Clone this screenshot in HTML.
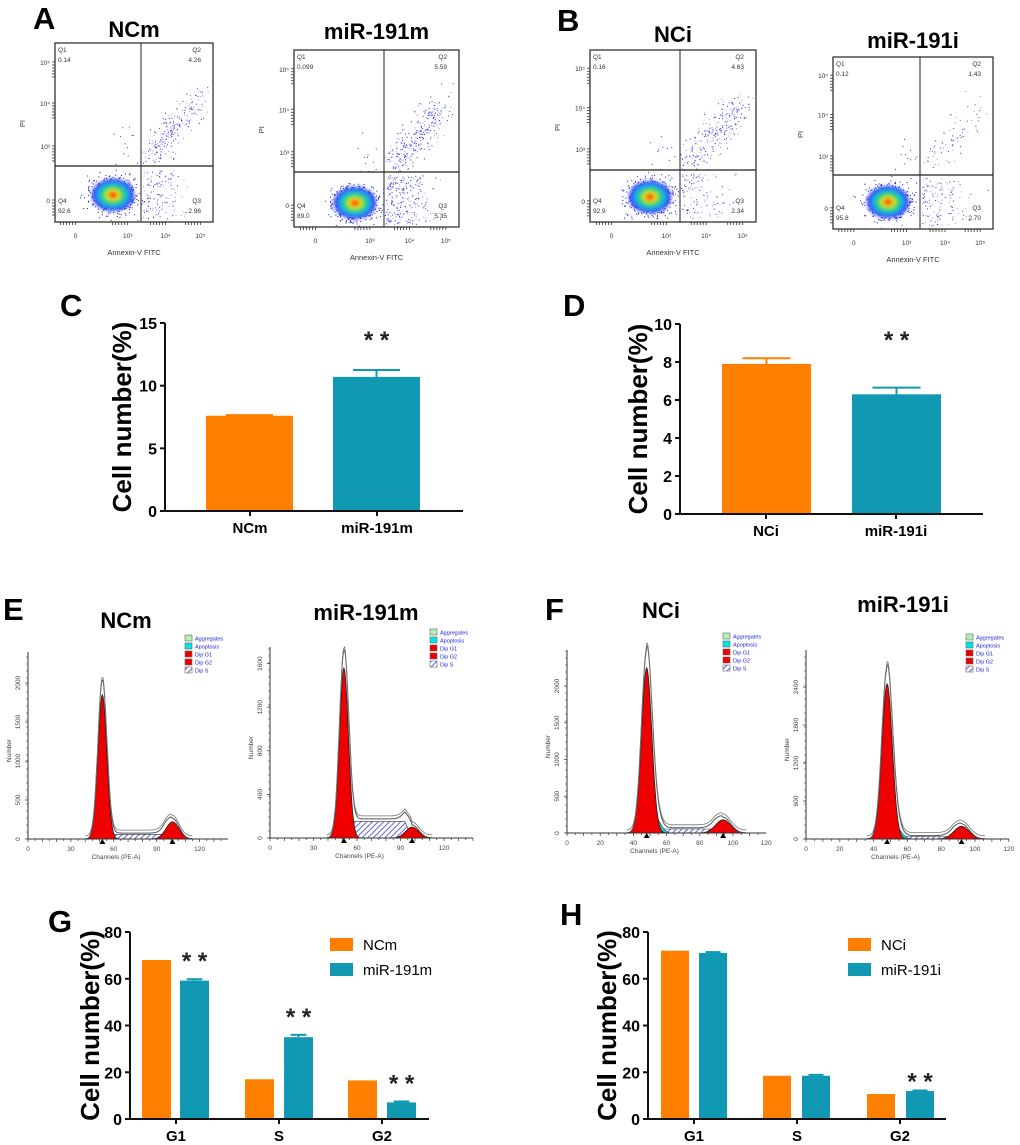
<!DOCTYPE html>
<html><head><meta charset="utf-8"><style>
html,body{margin:0;padding:0;background:#fff;}
svg{display:block;font-family:"Liberation Sans",Arial,sans-serif;}
</style></head><body>
<svg id="fig" width="1020" height="1145" viewBox="0 0 1020 1145" xmlns="http://www.w3.org/2000/svg">
<defs>
<pattern id="hatch" patternUnits="userSpaceOnUse" width="4" height="4" patternTransform="rotate(45)">
<rect width="4" height="4" fill="#fff"/><line x1="0" y1="0" x2="0" y2="4" stroke="#3b3bd6" stroke-width="1.6"/></pattern>
<filter id="blur1"><feGaussianBlur stdDeviation="1.8"/></filter>
</defs>
</svg>
<script>
// ---- Bar chart data ----
const cCats=['NCm','miR-191m'];
const cVals=[7.6,10.7];
const cErr=[0.05,0.55];
const cTicks=[0,5,10,15];
const dCats=['NCi','miR-191i'];
const dVals=[7.9,6.3];
const dErr=[0.3,0.35];
const dTicks=[0,2,4,6,8,10];
const gCats=['G1','S','G2'];
const gCtrl=[68,17,16.5];
const gTreat=[59.2,35,7.1];
const gTreatErr=[0.6,1.0,0.4];
const gTicks=[0,20,40,60,80];
const hCats=['G1','S','G2'];
const hCtrl=[72,18.5,10.7];
const hTreat=[71,18.5,12];
const hTreatErr=[0.4,0.4,0.2];
const hTicks=[0,20,40,60,80];
// ---- Flow cytometry quadrant values ----
const flowTitles=['NCm','miR-191m','NCi','miR-191i'];
const q1Vals=['0.14','0.099','0.16','0.12'];
const q2Vals=[4.26,5.59,4.63,1.43];
const q3Vals=[2.96,5.35,2.34,2.70];
const q4Vals=['92.6','89.0','92.9','95.8'];
// ---- Cell cycle histogram data ----
const histTitles=['NCm','miR-191m','NCi','miR-191i'];
const g1Center=[52,51,48,48];
const g1Height=[1850,1560,2250,2450];
const g2Center=[101,98,94,92];
const g2Height=[220,100,180,200];
const sLevel=[60,150,55,40];
const apoHeight=[0,0,220,200];
const histYTicks=[[0,500,1000,1500,2000],[0,400,800,1200,1600],[0,500,1000,1500,2000],[0,600,1200,1800,2400]];
const histXTicks=[[0,30,60,90,120],[0,30,60,90,120],[0,20,40,60,80,100,120],[0,20,40,60,80,100,120]];

const NS='http://www.w3.org/2000/svg';
const svg=document.getElementById('fig');
function el(tag,attrs,parent){const e=document.createElementNS(NS,tag);for(const k in attrs)e.setAttribute(k,attrs[k]);(parent||svg).appendChild(e);return e;}
function txt(s,attrs,parent){const e=el('text',attrs,parent);e.textContent=s;return e;}
const ORANGE='#ff8000',TEAL='#1199b4';

const letters=[['A',33,29],['B',557,31],['C',60,316],['D',563,316],['E',3,620],['F',545,620],['G',48,932],['H',560,925]];
letters.forEach(l=>{const t=txt(l[0],{x:l[1],y:l[2],'font-size':31,'font-weight':'bold',fill:'#000'});

});

// ---------- Flow plots ----------
const flowBoxes=[[55,43,213,222,141,166,113,195,37],[294,50,459,227,384,172,355,203,39],[590,50,756,222,680,170,650,197,42],[833,57,993,229,920,175,888,202,48]];
let seed=12345;function rnd(){seed=(seed*1664525+1013904223)%4294967296;return seed/4294967296;}
function gauss(){return (rnd()+rnd()+rnd()+rnd()-2)/0.58;}
flowBoxes.forEach((b,i)=>{
 const [x0,y0,x1,y1,cx,cy,bx,by,tb]=b;const w=x1-x0,h=y1-y0;
 const g=el('g',{});
 
 
 const t=txt(flowTitles[i],{x:(x0+x1)/2,y:tb,'text-anchor':'middle','font-size':22,'font-weight':'bold'},g);
 
 
 const n2=Math.round(q2Vals[i]*55);
 for(let k=0;k<n2;k++){const tt=rnd();const x=cx+(x1-cx)*(0.08+0.72*tt)+gauss()*7;const y=cy-(cy-y0)*(0.05+0.5*tt)+gauss()*9;
  if(x>cx&&x<x1-2&&y<cy&&y>y0+2)el('rect',{x:x,y:y,width:1,height:1,fill:rnd()<0.5?'#2a2ae6':'#8a8af0'},g);}
 const n3=Math.round(q3Vals[i]*45);
 for(let k=0;k<n3;k++){const x=cx+2+Math.abs(gauss())*(x1-cx)*0.3;const y=cy+3+rnd()*(y1-cy-6);
  if(x<x1-2)el('rect',{x:x,y:y,width:1,height:1,fill:rnd()<0.5?'#2a2ae6':'#9090f0'},g);}
 for(let k=0;k<12;k++){const x=bx+rnd()*(cx-bx);const y=cy-rnd()*(cy-y0)*0.35;el('rect',{x:x,y:y,width:1,height:1,fill:'#3030e0'},g);}
 for(let k=0;k<650;k++){const x=bx+gauss()*11;const y=by+gauss()*9;if(x>x0&&x<x1&&y<y1)el('rect',{x:x,y:y,width:1,height:1,fill:'#1010e0'},g);}
 const bl=el('g',{filter:'url(#blur1)'},g);
 [[21,16,'#2d3cf0'],[17,13,'#1aa8f0'],[13,10,'#22d070'],[8.5,6.5,'#b8e820'],[5.5,4.2,'#ffa010'],[3,2.4,'#ff2000']].forEach(c=>el('ellipse',{cx:bx,cy:by,rx:c[0],ry:c[1],fill:c[2]},bl));
 el('rect',{x:x0,y:y0,width:w,height:h,fill:'none',stroke:'#222','stroke-width':1.2},g);
 el('line',{x1:cx,y1:y0,x2:cx,y2:y1,stroke:'#222','stroke-width':1},g);
 el('line',{x1:x0,y1:cy,x2:x1,y2:cy,stroke:'#222','stroke-width':1.2},g);
 const fs=6.5,fc='#333';
 txt('Q1',{x:x0+3,y:y0+9,'font-size':fs,fill:fc},g);txt(q1Vals[i],{x:x0+3,y:y0+19,'font-size':fs,fill:fc},g);
 txt('Q2',{x:x1-12,y:y0+9,'font-size':fs,fill:fc,'text-anchor':'end'},g);txt(q2Vals[i].toFixed(2),{x:x1-12,y:y0+19,'font-size':fs,fill:fc,'text-anchor':'end'},g);
 txt('Q4',{x:x0+3,y:y1-19,'font-size':fs,fill:fc},g);txt(q4Vals[i],{x:x0+3,y:y1-9,'font-size':fs,fill:fc},g);
 txt('Q3',{x:x1-12,y:y1-19,'font-size':fs,fill:fc,'text-anchor':'end'},g);txt(q3Vals[i].toFixed(2),{x:x1-12,y:y1-9,'font-size':fs,fill:fc,'text-anchor':'end'},g);
 const yf=[0.106,0.335,0.575,0.877],yl=['10⁵','10⁴','10³','0'];
 yf.forEach((f,k)=>{const yy=y0+f*h;txt(yl[k],{x:x0-5,y:yy+3,'font-size':6.5,'text-anchor':'end',fill:'#333'},g);
  for(let m=0;m<6;m++)el('line',{x1:x0-3,y1:yy+m*3,x2:x0,y2:yy+m*3,stroke:'#333','stroke-width':0.8},g);});
 const xf=[0.13,0.46,0.70,0.92],xl=['0','10³','10⁴','10⁵'];
 xf.forEach((f,k)=>{const xx=x0+f*w;txt(xl[k],{x:xx,y:y1+16,'font-size':6.5,'text-anchor':'middle',fill:'#333'},g);
  for(let m=0;m<6;m++)el('line',{x1:xx-m*3,y1:y1,x2:xx-m*3,y2:y1+3,stroke:'#333','stroke-width':0.8},g);});
 txt('Annexin-V FITC',{x:(x0+x1)/2,y:y1+33,'font-size':7.5,'text-anchor':'middle',fill:'#333'},g);
 txt('PI',{x:0,y:0,'font-size':7.5,fill:'#333','text-anchor':'middle',transform:`translate(${x0-30},${y0+h*0.45}) rotate(-90)`},g);
});

// ---------- Histograms ----------
const histAxes=[[28,839,652,1.43,0.078,228,628,126,185,635],[270,838,647,1.45,0.109,473,620,366,430,629],[567,833,650,1.66,0.0735,766,618,661,723,633],[806,839,650,1.69,0.0633,1009,612,903,966,634]];
function gpdf(x,c,s){const z=(x-c)/s;return Math.exp(-0.5*z*z);}
histAxes.forEach((a,i)=>{
 const [ax,base,top,pxc,pxu,xend,tb,tcx,lx,ly]=a;
 const g=el('g',{});
 
 
 const t=txt(histTitles[i],{x:tcx,y:tb,'text-anchor':'middle','font-size':22,'font-weight':'bold'},g);
 
 
 const X=c=>ax+c*pxc,Y=v=>base-v*pxu;
 const c1=g1Center[i],c2=g2Center[i],s1=3.1,s2=4.5;
 const sfun=c=>{if(c<c1||c>c2)return 0;const v=sLevel[i];const e1=Math.min(1,(c-c1)/4),e2=Math.min(1,(c2-c)/5);return v*Math.max(0,Math.min(e1,e2));};
 const apo=c=>{if(c<c1||c>=c1+14)return 0;const z=(c-(c1+5))/4.5;return apoHeight[i]*Math.exp(-z*z);};
 const g1=c=>g1Height[i]*gpdf(c,c1,s1),g2=c=>g2Height[i]*gpdf(c,c2,s2);
 const pts=[];for(let c=c1-12;c<=c2+14;c+=0.5)pts.push(c);
 const area=f=>'M'+X(pts[0])+','+base+' '+pts.map(c=>'L'+X(c).toFixed(1)+','+Y(f(c)).toFixed(1)).join(' ')+' L'+X(pts[pts.length-1])+','+base+'Z';
 el('path',{d:area(sfun),fill:'url(#hatch)',stroke:'#333','stroke-width':0.6},g);
 if(apoHeight[i]>0)el('path',{d:area(apo),fill:'#00e6e6',stroke:'#333','stroke-width':0.6},g);
 el('path',{d:area(g1),fill:'#ee0000',stroke:'#222','stroke-width':0.8},g);
 el('path',{d:area(g2),fill:'#ee0000',stroke:'#222','stroke-width':0.8},g);
 const tot=c=>g1(c)*1.1+g2(c)*1.2+sfun(c)*1.1+apo(c)+(c>c1&&c<c2?10:0);
 const line=(f,dy)=>'M'+pts.map(c=>X(c).toFixed(1)+','+(Y(f(c))+dy).toFixed(1)).join(' L');
 el('path',{d:line(tot,0),fill:'none',stroke:'#555','stroke-width':1},g);
 el('path',{d:line(tot,-3),fill:'none',stroke:'#777','stroke-width':0.8},g);
 el('line',{x1:ax,y1:top,x2:ax,y2:base,stroke:'#333','stroke-width':1},g);
 el('line',{x1:ax,y1:base,x2:xend,y2:base,stroke:'#333','stroke-width':1},g);
 for(let c=0;X(c)<=xend;c+=5)el('line',{x1:X(c),y1:base,x2:X(c),y2:base+(c%10==0?3:2),stroke:'#333','stroke-width':0.7},g);
 histXTicks[i].forEach(v=>txt(String(v),{x:X(v),y:base+12,'font-size':6.5,'text-anchor':'middle',fill:'#444'},g));
 histYTicks[i].forEach(v=>{el('line',{x1:ax-3,y1:Y(v),x2:ax,y2:Y(v),stroke:'#333','stroke-width':0.7},g);
  txt(String(v),{x:0,y:0,'font-size':6.5,'text-anchor':'middle',fill:'#444',transform:`translate(${ax-8},${Y(v)}) rotate(-90)`},g);});
 for(let y=base;y>top;y-=7)el('line',{x1:ax-2,y1:y,x2:ax,y2:y,stroke:'#333','stroke-width':0.5},g);
 txt('Channels (PE-A)',{x:(ax+xend)/2-12,y:base+20,'font-size':6.5,'text-anchor':'middle',fill:'#444'},g);
 txt('Number',{x:0,y:0,'font-size':6.5,'text-anchor':'middle',fill:'#444',transform:`translate(${ax-17},${(top+base)/2+5}) rotate(-90)`},g);
 [c1,c2].forEach(c=>el('path',{d:`M${X(c)-3},${base+5} L${X(c)+3},${base+5} L${X(c)},${base} Z`,fill:'#000'},g));
 const leg=[['Aggregates','#b4f0b4'],['Apoptosis','#00e6e6'],['Dip G1','#ee0000'],['Dip G2','#ee0000'],['Dip S','url(#hatch)']];
 leg.forEach((l,k)=>{el('rect',{x:lx,y:ly+k*8,width:7,height:6,fill:l[1],stroke:'#666','stroke-width':0.6},g);
  txt(l[0],{x:lx+10,y:ly+k*8+5.5,'font-size':5.5,fill:'#2020e0'},g);});
});

// ---------- Bar charts ----------
function barChart(o){
 const g=el('g',{});
 
 
 const tmax=o.ticks[o.ticks.length-1];
 const Y=v=>o.base-(o.base-o.top)*v/tmax;
 const yt=txt('Cell number(%)',{x:0,y:0,'font-size':26,'font-weight':'bold','text-anchor':'middle',transform:`translate(${o.titleX},${(o.top+o.base)/2}) rotate(-90)`},g);
 
 
 o.ticks.forEach(v=>{el('line',{x1:o.ax-5,y1:Y(v),x2:o.ax,y2:Y(v),stroke:'#111','stroke-width':2},g);
  txt(String(v),{x:o.ax-8,y:Y(v)+6,'font-size':16,'font-weight':'bold','text-anchor':'end'},g);});
 o.series.forEach((s,si)=>{
  s.vals.forEach((v,k)=>{const x=o.barX[k][si];const w=o.barW;const col=Array.isArray(s.color)?s.color[k]:s.color;
   const e=s.err?s.err[k]:0;
   if(e>0){el('line',{x1:x+w/2,y1:Y(v),x2:x+w/2,y2:Y(v+e),stroke:col,'stroke-width':2},g);
    el('line',{x1:x+w/2-w*0.27,y1:Y(v+e),x2:x+w/2+w*0.27,y2:Y(v+e),stroke:col,'stroke-width':2},g);}
   const r=el('rect',{x:x,y:Y(v),width:w,height:o.base-Y(v),fill:col},g);
   
   
   if(s.stars&&s.stars[k]){const sb=o.starFixed!==undefined?o.starFixed:Y(v+e)-o.starGap;
    const st=txt('* *',{x:x+w/2,y:sb,'font-size':24,'font-weight':'bold','text-anchor':'middle',fill:'#222'},g);
    
    }
  });});
 el('line',{x1:o.ax,y1:o.top,x2:o.ax,y2:o.base,stroke:'#111','stroke-width':2},g);
 el('line',{x1:o.ax,y1:o.base,x2:o.xend,y2:o.base,stroke:'#111','stroke-width':2},g);
 o.cats.forEach((c,k)=>{const cx=o.catX[k];el('line',{x1:cx,y1:o.base,x2:cx,y2:o.base+5,stroke:'#111','stroke-width':2},g);
  txt(c,{x:cx,y:o.base+22,'font-size':15,'font-weight':'bold','text-anchor':'middle'},g);});
 if(o.legend){o.series.forEach((s,si)=>{const ly=o.legend[1]+si*25;
  const lr=el('rect',{x:o.legend[0],y:ly,width:23,height:13,fill:s.color},g);
  
  
  txt(s.label,{x:o.legend[0]+33,y:ly+12,'font-size':15},g);});}
}
barChart({name:'chart-c-apoptosis-mimic',ax:165,top:323,base:511,xend:463,ticks:cTicks,cats:cCats,catX:[250,377],barW:87,barX:[[206],[333]],titleX:131,starFixed:348,
 series:[{key:'value',color:[ORANGE,TEAL],vals:cVals,err:cErr,stars:[0,1]}]});
barChart({name:'chart-d-apoptosis-inhibitor',ax:680,top:324,base:514,xend:983,ticks:dTicks,cats:dCats,catX:[766,896],barW:89,barX:[[722],[852]],titleX:647,starFixed:348,
 series:[{key:'value',color:[ORANGE,TEAL],vals:dVals,err:dErr,stars:[0,1]}]});
barChart({name:'chart-g-cell-cycle-mimic',ax:130,top:932,base:1119,xend:429,ticks:gTicks,cats:gCats,catX:[176,279,382],barW:29,barX:[[142,180],[245,284],[348,387]],titleX:99,starGap:10,legend:[330,938],
 series:[{key:'ncm',label:'NCm',color:ORANGE,vals:gCtrl},{key:'mir-191m',label:'miR-191m',color:TEAL,vals:gTreat,err:gTreatErr,stars:[1,1,1]}]});
barChart({name:'chart-h-cell-cycle-inhibitor',ax:648,top:932,base:1119,xend:946,ticks:hTicks,cats:hCats,catX:[694,797,900],barW:28,barX:[[661,699],[763,802],[867,906]],titleX:616,starGap:1,legend:[848,938],
 series:[{key:'nci',label:'NCi',color:ORANGE,vals:hCtrl},{key:'mir-191i',label:'miR-191i',color:TEAL,vals:hTreat,err:hTreatErr,stars:[0,0,1]}]});
</script>
</body></html>
